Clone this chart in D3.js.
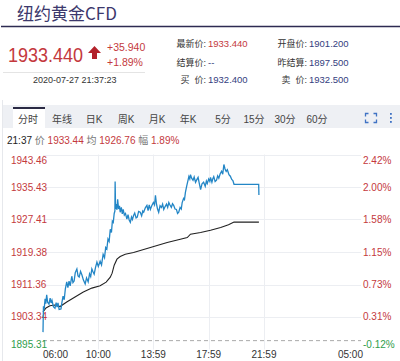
<!DOCTYPE html>
<html>
<head>
<meta charset="utf-8">
<script src="https://cdn.jsdelivr.net/npm/d3@7/dist/d3.min.js"></script>
<style>
  body { margin: 0; background: #fff; }
  svg { display: block; font-family: "Liberation Sans", Arial, "Noto Sans CJK SC", sans-serif; }
</style>
</head>
<body>
<div id="chart"></div>
<script>
"use strict";

// ---------------------------------------------------------------------------
// Data
// ---------------------------------------------------------------------------

const priceTicks = [1943.46, 1935.43, 1927.41, 1919.38, 1911.36, 1903.34, 1895.31];
const pctTicks = ["2.42%", "2.00%", "1.58%", "1.15%", "0.73%", "0.31%", "-0.12%"];
const timeTicks = ["06:00", "10:00", "13:59", "17:59", "21:59", "05:00"];
const prevClose = 1897.5;

const tabs = ["分时", "年线", "日K", "周K", "月K", "年K", "5分", "15分", "30分", "60分"];

// minute price (blue)
const priceTimes = [
  "06:00", "06:01", "06:02", "06:05", "06:09", "06:12", "06:16", "06:20", "06:26", "06:31",
  "06:35", "06:39", "06:45", "06:52", "06:57", "07:01", "07:05", "07:10", "07:18", "07:22",
  "07:27", "07:32", "07:37", "07:43", "07:48", "07:53", "07:58", "08:05", "08:10", "08:15",
  "08:20", "08:27", "08:32", "08:37", "08:43", "08:49", "08:55", "09:03", "09:09", "09:16",
  "09:22", "09:27", "09:32", "09:37", "09:42", "09:48", "09:54", "10:00", "10:08", "10:14",
  "10:21", "10:27", "10:32", "10:37", "10:42", "10:47", "10:52", "10:57", "11:01", "11:05",
  "11:09", "11:12", "11:13", "11:15", "11:18", "11:21", "11:24", "11:28", "11:32", "11:35",
  "11:40", "11:44", "11:48", "11:53", "11:58", "12:04", "12:09", "12:14", "12:19", "12:24",
  "12:28", "12:33", "12:38", "12:44", "12:49", "12:55", "13:02", "13:08", "13:13", "13:17",
  "13:24", "13:31", "13:36", "13:41", "13:46", "13:52", "13:59", "14:04", "14:08", "14:12",
  "14:17", "14:22", "14:28", "14:34", "14:39", "14:44", "14:50", "14:56", "15:01", "15:06",
  "15:11", "15:17", "15:22", "15:27", "15:33", "15:39", "15:44", "15:49", "15:55", "16:00",
  "16:04", "16:10", "16:14", "16:18", "16:24", "16:29", "16:33", "16:37", "16:40", "16:45",
  "16:51", "16:56", "17:02", "17:07", "17:13", "17:18", "17:24", "17:30", "17:37", "17:44",
  "17:49", "17:53", "17:59", "18:04", "18:07", "18:13", "18:17", "18:21", "18:27", "18:33",
  "18:38", "18:43", "18:49", "18:55", "19:00", "19:05", "19:10", "19:15", "19:20", "19:27",
  "19:33", "19:39", "19:44", "19:49", "21:36", "21:37"
];
const priceValues = [
  1899.6, 1903.0, 1906.0, 1905.2, 1907.8, 1906.6, 1908.8, 1907.0, 1906.5, 1908.0,
  1906.8, 1907.5, 1905.9, 1905.5, 1906.9, 1905.8, 1906.8, 1905.2, 1905.3, 1906.9,
  1908.5, 1907.6, 1910.3, 1912.0, 1910.6, 1912.2, 1911.0, 1913.4, 1911.8, 1912.2,
  1914.3, 1915.2, 1913.5, 1913.2, 1914.6, 1913.7, 1912.5, 1911.5, 1913.0, 1912.0,
  1914.0, 1913.3, 1915.2, 1914.5, 1913.9, 1915.6, 1916.9, 1915.8, 1917.1, 1916.2,
  1918.8, 1918.0, 1920.5, 1920.1, 1922.6, 1922.0, 1925.0, 1924.2, 1927.0, 1926.7,
  1928.9, 1929.5, 1936.8, 1930.0, 1931.2, 1929.8, 1932.4, 1930.0, 1930.8, 1929.2,
  1930.4, 1928.8, 1929.9, 1928.5, 1928.9, 1927.5, 1928.6, 1927.3, 1926.7, 1928.0,
  1927.4, 1928.4, 1929.0, 1927.8, 1928.0, 1929.4, 1929.2, 1928.3, 1929.5, 1929.2,
  1930.3, 1930.9, 1929.6, 1931.0, 1929.9, 1930.8, 1931.6, 1931.0, 1933.4, 1931.4,
  1930.0, 1929.2, 1930.8, 1930.4, 1931.2, 1929.9, 1930.6, 1931.2, 1930.4, 1931.6,
  1931.0, 1930.4, 1931.3, 1930.9, 1930.0, 1929.9, 1928.9, 1929.2, 1930.4, 1930.0,
  1931.6, 1932.6, 1932.3, 1934.1, 1935.8, 1937.0, 1938.0, 1937.4, 1938.5, 1937.6,
  1937.1, 1937.9, 1936.6, 1937.2, 1937.8, 1936.4, 1934.8, 1936.2, 1936.6, 1935.6,
  1936.9, 1936.3, 1937.4, 1936.8, 1937.8, 1936.6, 1937.5, 1938.0, 1936.8, 1937.1,
  1938.2, 1937.6, 1938.7, 1939.3, 1938.6, 1941.0, 1939.9, 1939.3, 1939.7, 1938.5,
  1938.1, 1937.3, 1937.0, 1936.1, 1936.1, 1933.44
];

// average price (black)
const avgTimes = [
  "06:00", "06:13", "06:30", "06:52", "07:14", "07:43", "08:19", "08:55", "09:32", "10:08",
  "10:34", "10:52", "11:00", "11:09", "11:21", "11:35", "11:57", "12:33", "13:46", "14:59",
  "15:56", "16:26", "16:40", "17:24", "18:07", "18:51", "19:25", "19:49", "21:37"
];
const avgValues = [
  1904.56, 1905.55, 1906.12, 1906.29, 1905.92, 1907.02, 1908.26, 1909.49, 1910.47, 1911.04,
  1911.95, 1913.18, 1914.16, 1916.13, 1917.61, 1918.27, 1918.84, 1919.26, 1920.49, 1921.72,
  1922.54, 1922.95, 1923.77, 1924.19, 1924.75, 1925.42, 1926.10, 1926.79, 1926.76
];

// ---------------------------------------------------------------------------
// Helpers
// ---------------------------------------------------------------------------

// minutes since 06:00, the session wraps past midnight
function toMin(s) {
  const [h, m] = s.split(":").map(Number);
  let v = h * 60 + m - 360;
  if (v < 0) v += 1440;
  return v;
}

const RED = "#c4393d";
const GREEN = "#2f9d4c";
const NAVY = "#34407e";

const svg = d3.select("#chart").append("svg")
  .attr("width", 400)
  .attr("height", 361);

// ---------------------------------------------------------------------------
// Header
// ---------------------------------------------------------------------------

svg.append("text")
  .attr("x", 17).attr("y", 20)
  .attr("font-size", 17)
  .attr("fill", "#3c386c")
  .style("font-family", "'Noto Sans CJK SC', sans-serif")
  .text("纽约黄金CFD");

svg.append("line")
  .attr("x1", 1).attr("x2", 400).attr("y1", 26.5).attr("y2", 26.5)
  .attr("stroke", "#2d2b52").attr("stroke-width", 1.5);

svg.append("text")
  .attr("x", 8).attr("y", 62)
  .attr("font-size", 20)
  .attr("textLength", 75)
  .attr("lengthAdjust", "spacingAndGlyphs")
  .attr("fill", RED)
  .text("1933.440");

svg.append("path")
  .attr("d", "M94.5,46 L101,53 L97,53 L97,59 L92,59 L92,53 L88,53 Z")
  .attr("fill", "#b3222b");

svg.append("text").attr("x", 107).attr("y", 51).attr("font-size", 10.5).attr("fill", RED).text("+35.940");
svg.append("text").attr("x", 107).attr("y", 66).attr("font-size", 10.5).attr("fill", RED).text("+1.89%");

svg.append("line")
  .attr("x1", 3).attr("x2", 145).attr("y1", 72.5).attr("y2", 72.5)
  .attr("stroke", "#e4e4e4");

svg.append("text").attr("x", 33).attr("y", 83).attr("font-size", 9).attr("fill", "#333")
  .text("2020-07-27 21:37:23");

const infoRows = [
  [177, 43, "最新价:", "1933.440", RED],
  [177, 62, "结算价:", "--", NAVY],
  [177, 79, "买  价:", "1932.400", NAVY],
  [278, 43, "开盘价:", "1901.200", NAVY],
  [278, 62, "昨结算:", "1897.500", NAVY],
  [278, 79, "卖  价:", "1932.500", NAVY]
];
infoRows.forEach(([x0, y0, label, val, col]) => {
  svg.append("text")
    .attr("x", x0 + 29).attr("y", y0 + 3.5)
    .attr("text-anchor", "end")
    .attr("font-size", 9)
    .attr("fill", "#333")
    .style("white-space", "pre")
    .text(label);
  svg.append("text")
    .attr("x", x0 + 31).attr("y", y0 + 3.5)
    .attr("font-size", 9.5)
    .attr("fill", col)
    .text(val);
});

// ---------------------------------------------------------------------------
// Tab bar
// ---------------------------------------------------------------------------

svg.append("line")
  .attr("x1", 2.5).attr("x2", 2.5).attr("y1", 100).attr("y2", 361)
  .attr("stroke", "#e6e8ec");

svg.append("rect")
  .attr("x", 3).attr("y", 105).attr("width", 397).attr("height", 23)
  .attr("fill", "#eef0f4");
svg.append("rect")
  .attr("x", 13).attr("y", 108).attr("width", 32).attr("height", 20)
  .attr("fill", "#fff");
svg.append("rect")
  .attr("x", 13).attr("y", 107).attr("width", 32).attr("height", 2)
  .attr("fill", "#2a2a44");

const tabX = [28, 62, 94, 126, 157, 188, 223, 254, 285, 317];
tabs.forEach((t, i) => {
  svg.append("text")
    .attr("x", tabX[i]).attr("y", 122.5)
    .attr("text-anchor", "middle")
    .attr("font-size", 10)
    .attr("fill", "#444")
    .text(t);
});

// fullscreen + menu icons
const icon = svg.append("g").attr("stroke", "#3f72c4").attr("stroke-width", 1.3).attr("fill", "none");
icon.append("path").attr("d", "M365.5,116.5 v-3 h3 M373.5,113.5 h3 v3 M376.5,119.5 v3 h-3 M368.5,122.5 h-3 v-3");
[113, 117, 121].forEach(yy => {
  svg.append("rect").attr("x", 390).attr("y", yy).attr("width", 1.8).attr("height", 1.8).attr("fill", "#3f72c4");
});

// info line
const info = svg.append("text").attr("x", 7).attr("y", 143.5).attr("font-size", 10);
info.append("tspan").attr("fill", "#222").text("21:37 ");
info.append("tspan").attr("fill", "#777").text("价 ");
info.append("tspan").attr("fill", RED).text("1933.44 ");
info.append("tspan").attr("fill", "#777").text("均 ");
info.append("tspan").attr("fill", RED).text("1926.76 ");
info.append("tspan").attr("fill", "#777").text("幅 ");
info.append("tspan").attr("fill", RED).text("1.89%");

// ---------------------------------------------------------------------------
// Chart
// ---------------------------------------------------------------------------

const plotL = 43, plotR = 361, plotT = 154.5, plotB = 349.5;

const x = d3.scaleLinear()
  .domain([toMin("06:00"), toMin("05:00")])
  .range([plotL, plotR]);

const y = d3.scaleLinear()
  .domain([priceTicks[priceTicks.length - 1], priceTicks[0]])
  .range([plotB, plotT]);

const grid = svg.append("g").attr("stroke", "#eceef2").attr("stroke-width", 1);
priceTicks.slice(0, -1).forEach(p => {
  grid.append("line")
    .attr("x1", plotL).attr("x2", plotR)
    .attr("y1", Math.round(y(p)) + 0.5).attr("y2", Math.round(y(p)) + 0.5);
});
timeTicks.slice(1, -1).forEach(t => {
  grid.append("line")
    .attr("x1", Math.round(x(toMin(t))) + 0.5).attr("x2", Math.round(x(toMin(t))) + 0.5)
    .attr("y1", plotT).attr("y2", plotB);
});

// previous close baseline
svg.append("line")
  .attr("x1", plotL).attr("x2", plotR)
  .attr("y1", y(prevClose)).attr("y2", y(prevClose))
  .attr("stroke", "#aaa")
  .attr("stroke-dasharray", "4,3");

// y labels: top label sits below its line, bottom above
function labelY(i) {
  const yy = y(priceTicks[i]);
  if (i === 0) return yy + 9;
  if (i === priceTicks.length - 1) return yy - 2;
  return yy + 3.5;
}

priceTicks.forEach((p, i) => {
  const col = p < prevClose ? GREEN : RED;
  svg.append("text")
    .attr("x", 11).attr("y", labelY(i))
    .attr("font-size", 10).attr("fill", col)
    .text(p.toFixed(2));
  svg.append("text")
    .attr("x", 363).attr("y", labelY(i))
    .attr("font-size", 10).attr("fill", col)
    .text(pctTicks[i]);
});

timeTicks.forEach((t, i) => {
  const last = i === timeTicks.length - 1;
  svg.append("text")
    .attr("x", i === 0 ? plotL : last ? 363 : x(toMin(t)))
    .attr("y", 358)
    .attr("text-anchor", i === 0 ? "start" : last ? "end" : "middle")
    .attr("font-size", 10).attr("fill", "#333")
    .text(t);
});

const line = d3.line()
  .x(d => x(toMin(d[0])))
  .y(d => y(d[1]));

svg.append("path")
  .datum(avgTimes.map((t, i) => [t, avgValues[i]]))
  .attr("d", line)
  .attr("fill", "none")
  .attr("stroke", "#222")
  .attr("stroke-width", 1.1);

svg.append("path")
  .datum(priceTimes.map((t, i) => [t, priceValues[i]]))
  .attr("d", line)
  .attr("fill", "none")
  .attr("stroke", "#2386c6")
  .attr("stroke-width", 1.3);
</script>
</body>
</html>
